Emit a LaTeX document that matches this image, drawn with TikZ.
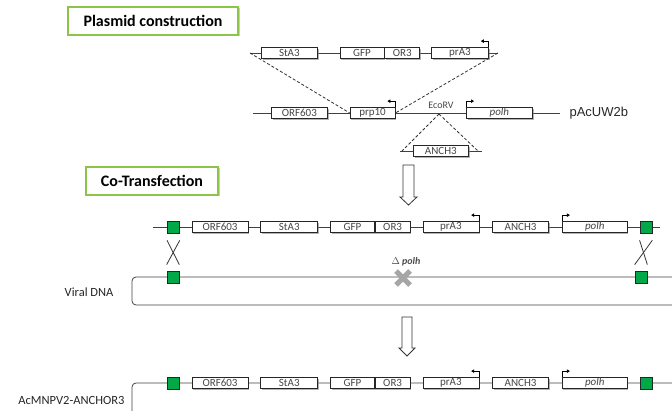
\documentclass[tikz,border=0pt]{standalone}
\usepackage{fontspec}
\setmainfont{Carlito}
\newfontfamily\arialfont{Liberation Sans}
\usepackage{xcolor}
\usetikzlibrary{positioning,shadows,arrows.meta}

\definecolor{framegreen}{RGB}{140,196,74}
\definecolor{boxgreen}{RGB}{0,168,72}

\tikzset{
  dna/.style = {draw=black!75, line width=0.8pt},
  gene/.style = {draw=black!85, fill=white, line width=0.7pt, minimum height=11pt,
    inner sep=0pt, text=black!72, font=\fontsize{11}{11}\selectfont,
    drop shadow={shadow xshift=1.2pt, shadow yshift=-1.2pt, fill=black!50, opacity=0.6}},
  hom/.style = {draw=black!85, fill=boxgreen, line width=0.7pt, minimum size=12pt, inner sep=0pt},
  titlebox/.style = {draw=framegreen, line width=1.6pt, fill=white, minimum height=28pt,
    font=\bfseries\fontsize{16}{18}\selectfont,
    drop shadow={shadow xshift=1.5pt, shadow yshift=-1.5pt, fill=black!40, opacity=0.5}},
  prom/.style = {line width=0.7pt, -{Triangle[length=3pt,width=3.5pt]}},
  cut/.style = {draw=black!80, line width=0.8pt, dash pattern=on 3pt off 2pt},
  xover/.style = {draw=black!80, line width=0.8pt},
  hollow/.style = {draw=black!80, fill=white, line width=0.8pt},
  label/.style = {text=black!85, font=\fontsize{12.5}{13}\selectfont},
}

\begin{document}
\begin{tikzpicture}[x=1pt, y=-1pt]
  \useasboundingbox (0,0) rectangle (672,411);

  % plasmid construction
  \node[titlebox, minimum width=170pt] (plasmid) at (153,21) {Plasmid construction};

  \coordinate (cL) at (250,53);
  \coordinate (cR) at (498,53);
  \draw[dna] (cL) -- (cR);
  \node[gene, minimum width=56pt, anchor=west] (csta) at (261,53) {StA3};
  \node[gene, minimum width=44pt, right=22pt of csta] (cgfp) {GFP};
  \node[gene, minimum width=35pt, right=0pt of cgfp] (cor) {OR3};
  \node[gene, minimum width=57pt, right=11pt of cor] (cpra) {prA3};
  \draw[prom] (cpra.north east) -- ++(0,-6) -- ++(-8,0);

  \coordinate (vL) at (253,113);
  \coordinate (vR) at (560,113);
  \draw[dna] (vL) -- (vR);
  \node[gene, minimum width=56pt, anchor=west] (vorf) at (271,113) {ORF603};
  \node[gene, minimum width=45pt, right=22pt of vorf] (vprp) {prp10};
  \node[gene, minimum width=66pt, anchor=west] (vpolh) at (466,113) {\itshape polh};
  \coordinate (ecorv) at (439,114);
  \node[text=black!72, font=\fontsize{10}{10}\selectfont] (ecolbl) at (441,105) {EcoRV};
  \node[anchor=west, text=black!85, font=\arialfont\fontsize{13}{13}\selectfont] (vname) at (566,113) {pAcUW2b};
  \draw[prom] (vprp.north east) -- ++(0,-6) -- ++(-8,0);
  \draw[prom] (vpolh.north west) -- ++(0,-6) -- ++(8,0);

  \draw[cut] (cL) -- (vprp.west);
  \draw[cut] (cR) -- (vprp.east);

  \coordinate (aL) at (400,151);
  \coordinate (aR) at (482,151);
  \draw[dna] (aL) -- (aR);
  \node[gene, minimum width=55pt, anchor=west] (anch) at (413,151) {ANCH3};
  \draw[cut] (ecorv) -- ([xshift=2pt]aL);
  \draw[cut] (ecorv) -- ([xshift=-4pt]aR);

  \draw[hollow] (403,165) -- (414,165) -- (414,197) -- (417,197) -- (408.5,205)
    -- (400,197) -- (403,197) -- cycle;

  % co-transfection
  \node[titlebox, minimum width=132pt] (cotrans) at (152,181) {Co-Transfection};

  \coordinate (rL) at (153,227);
  \coordinate (rR) at (660,227);
  \draw[dna] (rL) -- (rR);
  \node[hom, anchor=west] (rh1) at (167,227) {};
  \node[gene, minimum width=56pt, right=12pt of rh1] (rorf) {ORF603};
  \node[gene, minimum width=57pt, right=12pt of rorf] (rsta) {StA3};
  \node[gene, minimum width=44pt, right=12pt of rsta] (rgfp) {GFP};
  \node[gene, minimum width=35pt, right=0pt of rgfp] (ror) {OR3};
  \node[gene, minimum width=56pt, right=12pt of ror] (rpra) {prA3};
  \node[gene, minimum width=56pt, right=13pt of rpra] (ranch) {ANCH3};
  \node[gene, minimum width=65pt, right=13pt of ranch] (rpolh) {\itshape polh};
  \node[hom, right=12pt of rpolh] (rh2) {};
  \draw[prom] (rpra.north east) -- ++(0,-6) -- ++(-8,0);
  \draw[prom] (rpolh.north west) -- ++(0,-6) -- ++(8,0);

  % viral DNA
  \draw[dna, rounded corners=4pt] (672,277) -- (132,277) -- (132,305) -- (672,305);
  \node[hom] (vh1) at (173,277) {};
  \node[hom] (vh2) at (641,277) {};
  \node[label, anchor=east] (viral) at (117,292) {Viral DNA};
  \node[text=black!70, font=\bfseries\itshape\fontsize{10}{10}\selectfont] (dpolh) at (406,262) {$\Delta$ polh};
  \draw[black!35, line width=5pt] (396,271) -- (410,285) (396,285) -- (410,271);

  \draw[xover] ([yshift=-7pt]rh1.south west) -- ([yshift=6pt]vh1.north east);
  \draw[xover] ([yshift=-7pt]rh1.south east) -- ([yshift=6pt]vh1.north west);
  \draw[xover] ([yshift=-7pt]rh2.south west) -- ([yshift=6pt]vh2.north east);
  \draw[xover] ([yshift=-7pt]rh2.south east) -- ([yshift=6pt]vh2.north west);

  \draw[hollow] (402,317) -- (412,317) -- (412,348) -- (415,348) -- (407,356)
    -- (399,348) -- (402,348) -- cycle;

  % recombinant virus
  \draw[dna, rounded corners=4pt] (132,415) -- (132,383) -- (672,383);
  \node[hom, anchor=west] (bh1) at (167,383) {};
  \node[gene, minimum width=56pt, right=12pt of bh1] (borf) {ORF603};
  \node[gene, minimum width=57pt, right=12pt of borf] (bsta) {StA3};
  \node[gene, minimum width=44pt, right=12pt of bsta] (bgfp) {GFP};
  \node[gene, minimum width=35pt, right=0pt of bgfp] (bor) {OR3};
  \node[gene, minimum width=56pt, right=12pt of bor] (bpra) {prA3};
  \node[gene, minimum width=56pt, right=13pt of bpra] (banch) {ANCH3};
  \node[gene, minimum width=65pt, right=13pt of banch] (bpolh) {\itshape polh};
  \node[hom, right=12pt of bpolh] (bh2) {};
  \draw[prom] (bpra.north east) -- ++(0,-6) -- ++(-8,0);
  \draw[prom] (bpolh.north west) -- ++(0,-6) -- ++(8,0);
  \node[label, anchor=east] (recomb) at (128,400) {AcMNPV2-ANCHOR3};
\end{tikzpicture}
\end{document}
